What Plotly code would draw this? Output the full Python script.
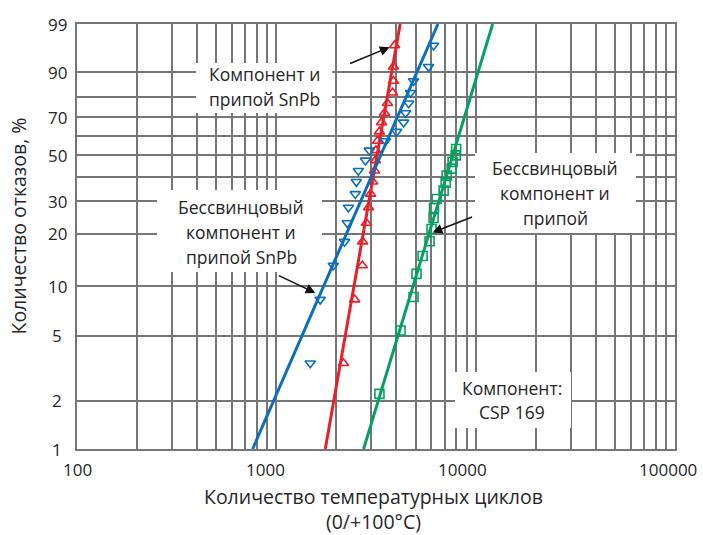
import numpy as np
import plotly.graph_objects as go

# ---- failure data (cycles to failure, median-rank failure percentage) ----
snpb_cycles = [2170, 2470, 2700, 2710, 2830, 2900, 2970, 3040, 3110, 3140,
               3160, 3220, 3290, 3370, 3490, 3610, 3830, 3870, 3870, 3920]
snpb_pct = [3.4, 8.3, 13.2, 18.1, 23.0, 27.9, 32.8, 37.7, 42.6, 47.5,
            52.5, 57.4, 62.3, 67.2, 72.1, 77.0, 81.9, 86.8, 91.7, 96.6]

mixed_cycles = [1480, 1660, 1930, 2200, 2270, 2300, 2490, 2520, 2580, 2800,
                2930, 3530, 4010, 4350, 4450, 4610, 4710, 4880, 5800, 6150]
mixed_pct = [3.4, 8.3, 13.2, 18.1, 23.0, 27.9, 32.8, 37.7, 42.6, 47.5,
             52.5, 57.4, 62.3, 67.2, 72.1, 77.0, 81.9, 86.8, 91.7, 96.6]

leadfree_cycles = [3290, 4200, 4880, 5050, 5420, 5870, 6010, 6150, 6180,
                   6370, 6910, 7070, 7150, 7580, 7660, 7940, 7980]
leadfree_pct = [2.2, 5.4, 8.6, 11.8, 15.0, 18.2, 21.3, 24.5, 27.7,
                30.9, 34.1, 37.3, 40.4, 43.6, 46.8, 50.0, 53.2]

# Weibull fit lines, given at 1 % and 99 %
fit_pct = [1, 99]
snpb_fit_cycles = [1760, 4180]
mixed_fit_cycles = [760, 6470]
leadfree_fit_cycles = [2740, 12170]

# axis ticks
y_grid_pct = [1, 2, 5, 10, 20, 30, 40, 50, 60, 70, 80, 90, 99]
y_label_pct = [1, 2, 5, 10, 20, 30, 50, 70, 90, 99]
x_major = [100, 1000, 10000, 100000]
x_label_shift = [0, -11, -13, -7]

RED = "#e8202a"
BLUE = "#0b6fc1"
GREEN = "#06a060"
GRID = "#767676"
TEXT = "#262626"
FONT = "Open Sans"


def weib(p):
    """Weibull probability scale: ln(-ln(1 - F))."""
    p = np.asarray(p, dtype=float) / 100.0
    return np.log(-np.log(1.0 - p))


# plot-area geometry in pixels (used for layout items only)
W, H = 703, 535
L, R, T, B = 77, 28, 24, 86
PW, PH = W - L - R, H - T - B


def px(x):
    return (x - L) / PW


def py(y):
    return (T + PH - y) / PH


x_grid = [m * 10 ** e for e in range(2, 5) for m in range(1, 10)] + [100000]

fig = go.Figure()

series = [
    (snpb_fit_cycles, snpb_cycles, snpb_pct, RED, "triangle-up-open", 9),
    (mixed_fit_cycles, mixed_cycles, mixed_pct, BLUE, "triangle-down-open", 9),
    (leadfree_fit_cycles, leadfree_cycles, leadfree_pct, GREEN, "square-open", 9),
]
for fit_c, c, p, col, sym, sz in series:
    fig.add_trace(go.Scatter(
        x=fit_c, y=weib(fit_pct), mode="lines",
        line=dict(color=col, width=3), hoverinfo="skip", showlegend=False,
    ))
    fig.add_trace(go.Scatter(
        x=c, y=weib(p), mode="markers",
        marker=dict(symbol=sym, size=sz, color=col, line=dict(color=col, width=1.6)),
        showlegend=False, cliponaxis=False,
    ))

ylo, yhi = float(weib([1])[0]), float(weib([99])[0])

fig.update_xaxes(
    type="log", range=[2, 5], tickvals=x_grid, showticklabels=False, ticks="",
    showgrid=True, gridcolor=GRID, gridwidth=2, zeroline=False,
    showline=True, linecolor=GRID, linewidth=2, mirror=True,
)
fig.update_yaxes(
    range=[ylo, yhi], tickvals=list(weib(y_grid_pct)), showticklabels=False, ticks="",
    showgrid=True, gridcolor=GRID, gridwidth=2, zeroline=False,
    showline=True, linecolor=GRID, linewidth=2, mirror=True,
)

ann = []
tick_font = dict(family=FONT, size=17, color=TEXT)
box_font = dict(family=FONT, size=17.5, color=TEXT)
title_font = dict(family=FONT, size=19.5, color=TEXT)

# y tick labels (centred in the left gutter)
for v in y_label_pct:
    ann.append(dict(x=0, xref="paper", y=float(weib([v])[0]), yref="y",
                    text=str(v), showarrow=False, xanchor="center", yanchor="middle",
                    xshift=-20, font=tick_font))
# x tick labels
for v, s in zip(x_major, x_label_shift):
    ann.append(dict(x=np.log10(v), xref="x", y=0, yref="paper", text=str(v),
                    showarrow=False, xanchor="center", yanchor="middle",
                    xshift=s, yshift=-20, font=tick_font))

# axis titles
ann.append(dict(x=0.5, xref="paper", y=0, yref="paper",
                text="Количество температурных циклов<br>(0/+100°C)",
                showarrow=False, xanchor="center", yanchor="middle", yshift=-60,
                xshift=-3, font=title_font))
ann.append(dict(x=0, xref="paper", y=0.5, yref="paper", text="Количество отказов, %",
                textangle=-90, showarrow=False, xanchor="center", yanchor="middle",
                xshift=-59, yshift=10, font=title_font))

# callout boxes: (x0, y0, x1, y1) in pixels, centre x, list of (line text, line y)
boxes = [
    ((196, 63, 332, 113), 264, [("Компонент и", 74), ("припой SnPb", 99)]),
    ((157, 190, 322, 272), 241, [("Бессвинцовый", 207), ("компонент и", 232), ("припой SnPb", 257)]),
    ((475, 153, 636, 233), 555, [("Бессвинцовый", 168), ("компонент и", 193), ("припой", 218)]),
    ((455, 372, 571, 428), 512, [("Компонент:", 388), ("CSP 169", 412)]),
]
shapes = []
for (x0, y0, x1, y1), cx, lines in boxes:
    shapes.append(dict(type="rect", xref="paper", yref="paper",
                       x0=px(x0), x1=px(x1), y0=py(y1), y1=py(y0),
                       fillcolor="white", line=dict(width=0), layer="above"))
    for t, ly in lines:
        ann.append(dict(x=px(cx), xref="paper", y=py(ly), yref="paper", text=t,
                        showarrow=False, xanchor="center", yanchor="middle", font=box_font))

# arrows pointing to the curves: tip (cycles, %) and tail offset in pixels
arrows = [
    (3700, 96.3, -41, 17),
    (1570, 9.1, -38, -18),
    (6080, 20.4, 41, -16),
]
for c, p, ax, ay in arrows:
    ann.append(dict(x=np.log10(c), xref="x", y=float(weib([p])[0]), yref="y", text="",
                    showarrow=True, ax=ax, ay=ay, axref="pixel", ayref="pixel",
                    arrowhead=2, arrowsize=1.3, arrowwidth=1.5, arrowcolor="#111111",
                    standoff=0))

fig.update_layout(
    width=W, height=H,
    margin=dict(l=L, r=R, t=T, b=B),
    paper_bgcolor="white", plot_bgcolor="white",
    annotations=ann, shapes=shapes,
    font=dict(family=FONT, color=TEXT),
    showlegend=False,
)

fig.write_html("out.html")
